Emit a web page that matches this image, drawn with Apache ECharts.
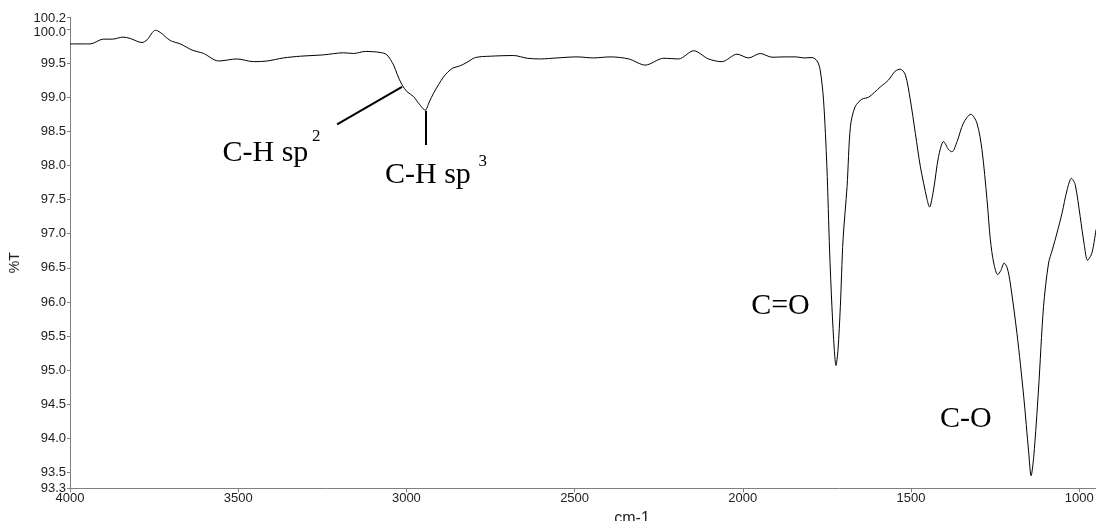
<!DOCTYPE html>
<html>
<head>
<meta charset="utf-8">
<script src="https://cdn.jsdelivr.net/npm/echarts@6/dist/echarts.min.js"></script>
<style>html,body{margin:0;padding:0;background:#fff;}#c{width:1096px;height:521px;}</style>
</head>
<body>
<div id="c"></div>
<script>
// Wavenumber (cm-1) and %T
const wavenumber = [4000,3940,3901,3874,3842,3821,3786,3771,3746,3732,
  3702,3672,3637,3603,3558,3504,3454,3414,3365,3315,
  3246,3187,3157,3122,3078,3058,3038,3027,3013,2998,
  2979,2962,2944,2932,2919,2889,2864,2840,2820,2795,
  2751,2681,2641,2602,2552,2493,2444,2394,2339,2290,
  2235,2191,2146,2102,2062,2017,1983,1948,1913,1874,
  1841,1819,1794,1779,1770,1760,1750,1742,1735,1728,
  1723,1717,1710,1702,1690,1680,1666,1646,1626,1591,
  1567,1547,1532,1517,1502,1487,1472,1452,1445,1433,
  1418,1403,1388,1378,1363,1344,1322,1304,1289,1274,
  1264,1254,1242,1233,1223,1214,1205,1185,1165,1150,
  1143,1135,1121,1106,1091,1080,1066,1051,1036,1023,
  1012,997,985,975,962,950];
const transmittance = [99.78,99.78,99.85,99.85,99.88,99.86,99.80,99.84,99.98,99.95,
  99.83,99.78,99.69,99.64,99.53,99.56,99.52,99.53,99.575,99.60,
  99.62,99.65,99.64,99.67,99.655,99.62,99.47,99.33,99.18,99.08,
  99.01,98.90,98.81,98.93,99.06,99.30,99.42,99.46,99.51,99.58,
  99.60,99.61,99.57,99.56,99.575,99.59,99.575,99.59,99.56,99.47,
  99.57,99.56,99.68,99.56,99.52,99.63,99.575,99.64,99.585,99.59,
  99.59,99.575,99.58,99.53,99.40,98.96,97.98,96.76,95.93,95.30,
  95.07,95.30,95.93,96.91,97.69,98.57,98.86,98.97,99.00,99.15,
  99.25,99.38,99.41,99.33,98.96,98.47,97.98,97.50,97.39,97.64,
  98.13,98.35,98.23,98.20,98.35,98.62,98.75,98.62,98.23,97.50,
  96.91,96.57,96.40,96.46,96.57,96.50,96.28,95.54,94.62,93.79,
  93.455,93.74,94.71,95.93,96.57,96.76,97.01,97.30,97.64,97.81,
  97.72,97.25,96.84,96.61,96.72,97.06];

const xTicks = [4000,3500,3000,2500,2000,1500,1000];
const yTicks = [93.27,93.5,94.0,94.5,95.0,95.5,96.0,96.5,97.0,97.5,98.0,98.5,99.0,99.5,100.0,100.17];
const xRange = [950, 4000];
const yRange = [93.27, 100.17];

// annotation labels: text, wavenumber, %T
const bandLabels = ['C-H sp', 'C-H sp', 'C=O', 'C-O'];
const bandLabelX = [3419, 2936, 1888, 1337];
const bandLabelY = [98.18, 97.86, 95.94, 94.28];
const supLabels = ['2', '3'];
const supLabelX = [3268, 2773];
const supLabelY = [98.42, 98.05];
// leader lines: [x1, y1, x2, y2]
const leaderLines = [[3206, 98.60, 3013, 99.15], [2942, 98.80, 2942, 98.30]];

const chart = echarts.init(document.getElementById('c'), null, {renderer: 'canvas'});
const sans = 'Liberation Sans';
const serif = 'Liberation Serif';
const markData = [];
bandLabels.forEach((t, i) => markData.push({
  coord: [bandLabelX[i], bandLabelY[i]], value: t,
  label: {formatter: t, fontSize: 30}
}));
supLabels.forEach((t, i) => markData.push({
  coord: [supLabelX[i], supLabelY[i]], value: t,
  label: {formatter: t, fontSize: 17}
}));

const lblStyle = {fontFamily: sans, fontSize: 13, color: '#222'};

chart.setOption({
  animation: false,
  backgroundColor: '#fff',
  grid: {left: 70, right: 0, top: 17.3, bottom: 32.7, outerBoundsMode: 'none', containLabel: false},
  xAxis: {
    type: 'value', inverse: true, min: xRange[0], max: xRange[1],
    name: 'cm-1', nameLocation: 'middle', nameGap: 18,
    nameTextStyle: {fontFamily: sans, fontSize: 16, color: '#222', padding: [0, 0, 0, 98]},
    axisLine: {show: true, lineStyle: {color: '#808080', width: 1}},
    axisTick: {show: true, length: 4, lineStyle: {color: '#808080'}, customValues: xTicks},
    axisLabel: Object.assign({}, lblStyle, {margin: 4, customValues: xTicks,
      hideOverlap: false, showMinLabel: true, showMaxLabel: true,
      formatter: v => String(Math.round(v))}),
    splitLine: {show: false}
  },
  yAxis: {
    type: 'value', min: yRange[0], max: yRange[1],
    name: '%T', nameLocation: 'middle', nameGap: 31,
    nameTextStyle: {fontFamily: sans, fontSize: 14, color: '#222', padding: [0, 20, 0, 0]},
    axisLine: {show: true, lineStyle: {color: '#808080', width: 1}},
    axisTick: {show: true, length: 3, lineStyle: {color: '#808080'}, customValues: yTicks},
    axisLabel: Object.assign({}, lblStyle, {margin: 4, customValues: yTicks,
      hideOverlap: false, showMinLabel: true, showMaxLabel: true,
      formatter: v => {
        const s = Number(v).toFixed(1);
        if (v > 100.1) return '{a|' + s + '}';
        if (v > 99.9) return '{b|' + s + '}';
        return s;
      },
      rich: {
        a: Object.assign({}, lblStyle, {padding: [3, 0, 0, 0]}),
        b: Object.assign({}, lblStyle, {padding: [7, 0, 0, 0]})
      }}),
    splitLine: {show: false}
  },
  series: [{
    type: 'line',
    data: wavenumber.map((w, i) => [w, transmittance[i]]),
    showSymbol: false,
    smooth: 0.3,
    lineStyle: {color: '#000', width: 1},
    markPoint: {
      symbol: 'circle', symbolSize: 1,
      itemStyle: {color: 'rgba(0,0,0,0)'},
      label: {show: true, position: 'inside', color: '#000', fontFamily: serif,
        textBorderWidth: 0, align: 'center', verticalAlign: 'middle'},
      data: markData
    },
    markLine: {
      silent: true, symbol: ['none', 'none'],
      lineStyle: {color: '#000', width: 2, type: 'solid'},
      label: {show: false},
      data: leaderLines.map(l => [{coord: [l[0], l[1]]}, {coord: [l[2], l[3]]}])
    }
  }]
});
</script>
</body>
</html>
